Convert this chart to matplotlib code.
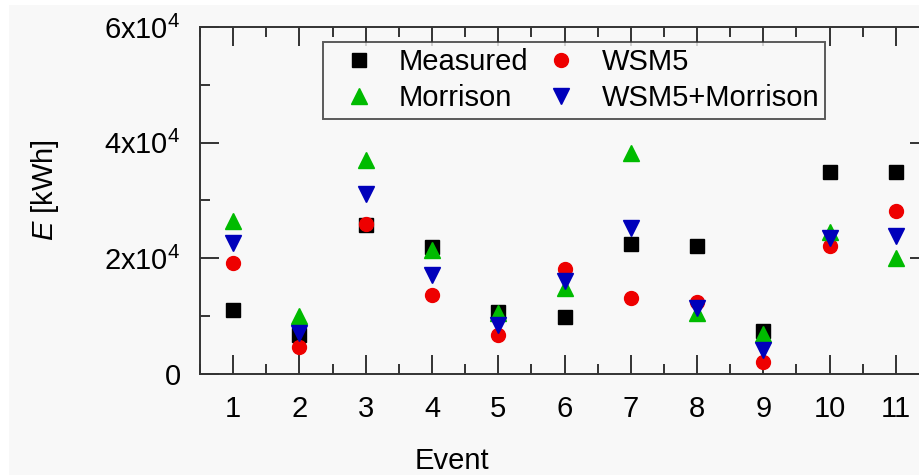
import matplotlib.pyplot as plt
from matplotlib.patches import Rectangle
from matplotlib.ticker import MultipleLocator, FixedLocator

plt.rcParams['font.family'] = ['Liberation Sans', 'DejaVu Sans']
plt.rcParams['mathtext.fontset'] = 'custom'
plt.rcParams['mathtext.rm'] = 'Liberation Sans'
plt.rcParams['mathtext.it'] = 'Liberation Sans:italic'

# --- energy per event (kWh) ---
events = [1, 2, 3, 4, 5, 6, 7, 8, 9, 10, 11]
measured = [11100, 6700, 25800, 22000, 10700, 9900, 22500, 22100, 7400, 34900, 34900]
wsm5 = [19200, 4700, 26000, 13700, 6700, 18200, 13100, 12500, 2100, 22100, 28200]
morrison = [26500, 10000, 37000, 21500, 10600, 14900, 38200, 10500, 6900, 24600, 20000]
wsm5_morrison = [22700, 7100, 31100, 17100, 8500, 16100, 25300, 11400, 4200, 23500, 23900]

y_ticks = [0, 20000, 40000, 60000]
y_tick_labels = ['0', r'2x10$^4$', r'4x10$^4$', r'6x10$^4$']

bg = '#f8f8f8'
fs = 21
fig = plt.figure(figsize=(9.19, 4.75), dpi=100, facecolor='white')
fig.patches.append(Rectangle((9 / 919, 0), 1, (475 - 5) / 475, transform=fig.transFigure,
                             facecolor=bg, edgecolor='none', zorder=-10))

# axes run past the right edge of the canvas
ax = fig.add_axes([200 / 919, (475 - 374) / 475, 729 / 919, 347 / 475])
ax.set_facecolor(bg)

ms = 10
h_meas, = ax.plot(events, measured, 's', color='black', ms=ms - 0.5, label='Measured', zorder=3)
h_wsm5, = ax.plot(events, wsm5, 'o', color='#ee0000', ms=ms, label='WSM5', zorder=3)
h_morr, = ax.plot(events, morrison, '^', color='#00bb00', ms=ms + 2, label='Morrison', zorder=3)
h_both, = ax.plot(events, wsm5_morrison, 'v', color='#0000bb', ms=ms + 2, label='WSM5+Morrison', zorder=3)

ax.set_xlim(0.5, 11.5)
ax.set_ylim(0, 60000)
ax.xaxis.set_major_locator(FixedLocator(events))
ax.xaxis.set_minor_locator(MultipleLocator(0.5))
ax.yaxis.set_major_locator(FixedLocator(y_ticks))
ax.yaxis.set_minor_locator(MultipleLocator(10000))
ax.set_yticklabels(y_tick_labels)

spine_c = '#333333'
for s in ax.spines.values():
    s.set_color(spine_c)
    s.set_linewidth(1.4)
ax.tick_params(which='both', direction='in', top=True, right=True, color=spine_c,
               width=1.4, labelsize=fs)
ax.tick_params(which='major', length=14)
ax.tick_params(which='minor', length=7)
ax.tick_params(axis='x', pad=15)
ax.tick_params(axis='y', pad=14)

ax.set_xlabel('Event', fontsize=fs)
ax.xaxis.set_label_coords(0.346, -0.21)
ax.set_ylabel(r'$E$ [kWh]', fontsize=fs)
ax.yaxis.set_label_coords(-0.19, 0.53)

# row-wise legend: Measured | WSM5 / Morrison | WSM5+Morrison
leg = ax.legend([h_meas, h_morr, h_wsm5, h_both],
                ['Measured', 'Morrison', 'WSM5', 'WSM5+Morrison'],
                ncol=2, loc='upper left', bbox_to_anchor=(123 / 729, 1 - 15 / 347),
                borderaxespad=0, fontsize=fs, frameon=True, fancybox=False,
                edgecolor=spine_c, handletextpad=0.38, columnspacing=0.12,
                borderpad=0.22, labelspacing=0.27, handlelength=2.0)
leg.get_frame().set_linewidth(1.4)
leg.get_frame().set_facecolor(bg)

fig.savefig('out.png', dpi=100, facecolor='white')
